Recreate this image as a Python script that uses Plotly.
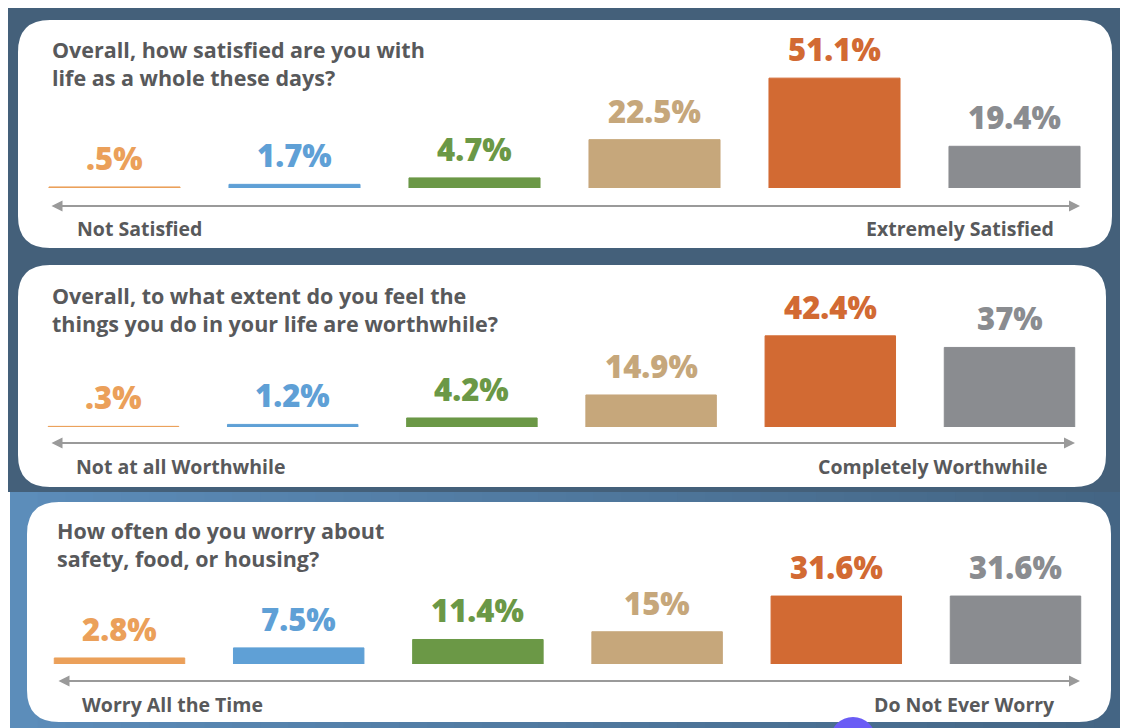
import plotly.graph_objects as go

# ---------------- data ----------------
scale_points = [1, 2, 3, 4, 5, 6]

questions = [
    "Overall, how satisfied are you with<br>life as a whole these days?",
    "Overall, to what extent do you feel the<br>things you do in your life are worthwhile?",
    "How often do you worry about<br>safety, food, or housing?",
]
low_labels = ["Not Satisfied", "Not at all Worthwhile", "Worry All the Time"]
high_labels = ["Extremely Satisfied", "Completely Worthwhile", "Do Not Ever Worry"]

satisfied = [0.5, 1.7, 4.7, 22.5, 51.1, 19.4]
worthwhile = [0.3, 1.2, 4.2, 14.9, 42.4, 37.0]
worry = [2.8, 7.5, 11.4, 15.0, 31.6, 31.6]

satisfied_labels = [".5%", "1.7%", "4.7%", "22.5%", "51.1%", "19.4%"]
worthwhile_labels = [".3%", "1.2%", "4.2%", "14.9%", "42.4%", "37%"]
worry_labels = ["2.8%", "7.5%", "11.4%", "15%", "31.6%", "31.6%"]

series = [satisfied, worthwhile, worry]
series_labels = [satisfied_labels, worthwhile_labels, worry_labels]

# ---------------- style ----------------
W, H = 1128, 728
OFF = 8  # page body margin offset
bar_colors = ["#EBA05A", "#5FA0D6", "#6B9846", "#C6A77B", "#D26A33", "#8A8C90"]
text_gray = "#58595B"
FONT = "Open Sans"


def px(x):
    return (x - OFF) / W


def py(y):
    return 1 - (y - OFF) / H


# panel geometry in pixels: (x0, y0, x1, y1)
panels = [(18, 20, 1112, 248), (18, 265, 1106, 487), (27, 502, 1111, 722)]
bar_x = [(24.5, 1104.5), (23.9, 1099.1), (29.9, 1105.1)]
baseline = [188, 427, 664]
px_per_pct = 2.15
area_h = 130
question_pos = [(50, 63.5), (50, 309.5), (55, 544.5)]
arrow_pos = [(50, 1080, 206), (50, 1075, 443), (57, 1080, 681)]
end_label_y = [228, 466, 704]
end_label_x = [(75, 1056), (74, 1050), (80, 1057)]


def rounded(x0, y0, x1, y1, r):
    pts = [
        f"M {px(x0 + r)},{py(y0)}",
        f"L {px(x1 - r)},{py(y0)}",
        f"Q {px(x1)},{py(y0)} {px(x1)},{py(y0 + r)}",
        f"L {px(x1)},{py(y1 - r)}",
        f"Q {px(x1)},{py(y1)} {px(x1 - r)},{py(y1)}",
        f"L {px(x0 + r)},{py(y1)}",
        f"Q {px(x0)},{py(y1)} {px(x0)},{py(y1 - r)}",
        f"L {px(x0)},{py(y0 + r)}",
        f"Q {px(x0)},{py(y0)} {px(x0 + r)},{py(y0)}",
        "Z",
    ]
    return " ".join(pts)


fig = go.Figure()
shapes = []
annotations = []

# background: top dark section
shapes.append(dict(type="rect", xref="paper", yref="paper", x0=0, x1=1, y0=py(492), y1=1,
                   fillcolor="#44607A", line_width=0, layer="below"))
# bottom section gradient (lighter blue on the left)
n = 40
c0 = (92, 141, 186)
c1 = (68, 101, 132)
xs, xe = 10, 1122
for i in range(n):
    t = i / (n - 1)
    c = tuple(int(c0[k] + (c1[k] - c0[k]) * t) for k in range(3))
    x_left = xs + (xe - xs) * i / n
    x_right = xe if i == n - 1 else xs + (xe - xs) * (i + 1) / n + 3
    shapes.append(dict(type="rect", xref="paper", yref="paper",
                       x0=px(x_left), x1=px(x_right),
                       y0=0, y1=py(492), fillcolor="rgb(%d,%d,%d)" % c, line_width=0, layer="below"))

# panels
for (x0, y0, x1, y1) in panels:
    shapes.append(dict(type="path", xref="paper", yref="paper", path=rounded(x0, y0, x1, y1, 32),
                       fillcolor="#FFFFFF", line_width=0, layer="below"))

# artifact circle at the bottom
shapes.append(dict(type="circle", xref="paper", yref="paper", x0=px(830), x1=px(876), y0=py(763), y1=py(717),
                   fillcolor="#6A5CF5", line_width=0, layer="above"))

for k in range(3):
    ax_id = "" if k == 0 else str(k + 1)
    xa, ya = "x" + ax_id, "y" + ax_id
    vals = series[k]
    fig.add_trace(go.Bar(
        x=scale_points, y=vals, xaxis=xa, yaxis=ya,
        marker=dict(color=bar_colors, line=dict(color=bar_colors, width=1)),
        hoverinfo="skip", showlegend=False,
    ))
    ymax = area_h / px_per_pct
    dom_x = [px(bar_x[k][0]), px(bar_x[k][1])]
    dom_y = [py(baseline[k]), py(baseline[k] - area_h)]
    fig.update_layout(**{
        "xaxis" + ax_id: dict(domain=dom_x, range=[0.5, 6.5], visible=False, fixedrange=True,
                              anchor=ya),
        "yaxis" + ax_id: dict(domain=dom_y, range=[0, ymax], visible=False, fixedrange=True,
                              anchor=xa),
    })
    # value labels
    for i, (v, lab) in enumerate(zip(vals, series_labels[k])):
        annotations.append(dict(x=scale_points[i], y=v, xref=xa, yref=ya, text=lab, showarrow=False,
                                yanchor="bottom", xanchor="center", yshift=6,
                                font=dict(family=FONT, size=31, color=bar_colors[i], weight=800)))
    # question
    qx, qy = question_pos[k]
    annotations.append(dict(x=px(qx), y=py(qy), xref="paper", yref="paper", text=questions[k],
                            showarrow=False, xanchor="left", yanchor="middle", align="left",
                            font=dict(family=FONT, size=21.5, color=text_gray, weight=700)))
    # arrow
    a0, a1, ay = arrow_pos[k]
    annotations.append(dict(x=px(a1), y=py(ay), xref="paper", yref="paper", text="",
                            showarrow=True, ax=-(a1 - a0), ay=0, axref="pixel", ayref="pixel",
                            arrowside="end+start", arrowhead=2, startarrowhead=2,
                            arrowsize=1.1, startarrowsize=1.1, arrowwidth=2, arrowcolor="#9A9A9A",
                            standoff=0, startstandoff=0))
    # end labels
    lx, rx = end_label_x[k]
    annotations.append(dict(x=px(lx), y=py(end_label_y[k]), xref="paper", yref="paper", text=low_labels[k],
                            showarrow=False, xanchor="left", yanchor="middle",
                            font=dict(family=FONT, size=19.5, color=text_gray, weight=700)))
    annotations.append(dict(x=px(rx), y=py(end_label_y[k]), xref="paper", yref="paper", text=high_labels[k],
                            showarrow=False, xanchor="right", yanchor="middle",
                            font=dict(family=FONT, size=19.5, color=text_gray, weight=700)))

fig.update_layout(
    width=W, height=H, margin=dict(l=0, r=0, t=0, b=0),
    paper_bgcolor="#FFFFFF", plot_bgcolor="rgba(0,0,0,0)",
    bargap=0.272, shapes=shapes, annotations=annotations, showlegend=False,
)

fig.write_html("out.html", config={"displayModeBar": False})
